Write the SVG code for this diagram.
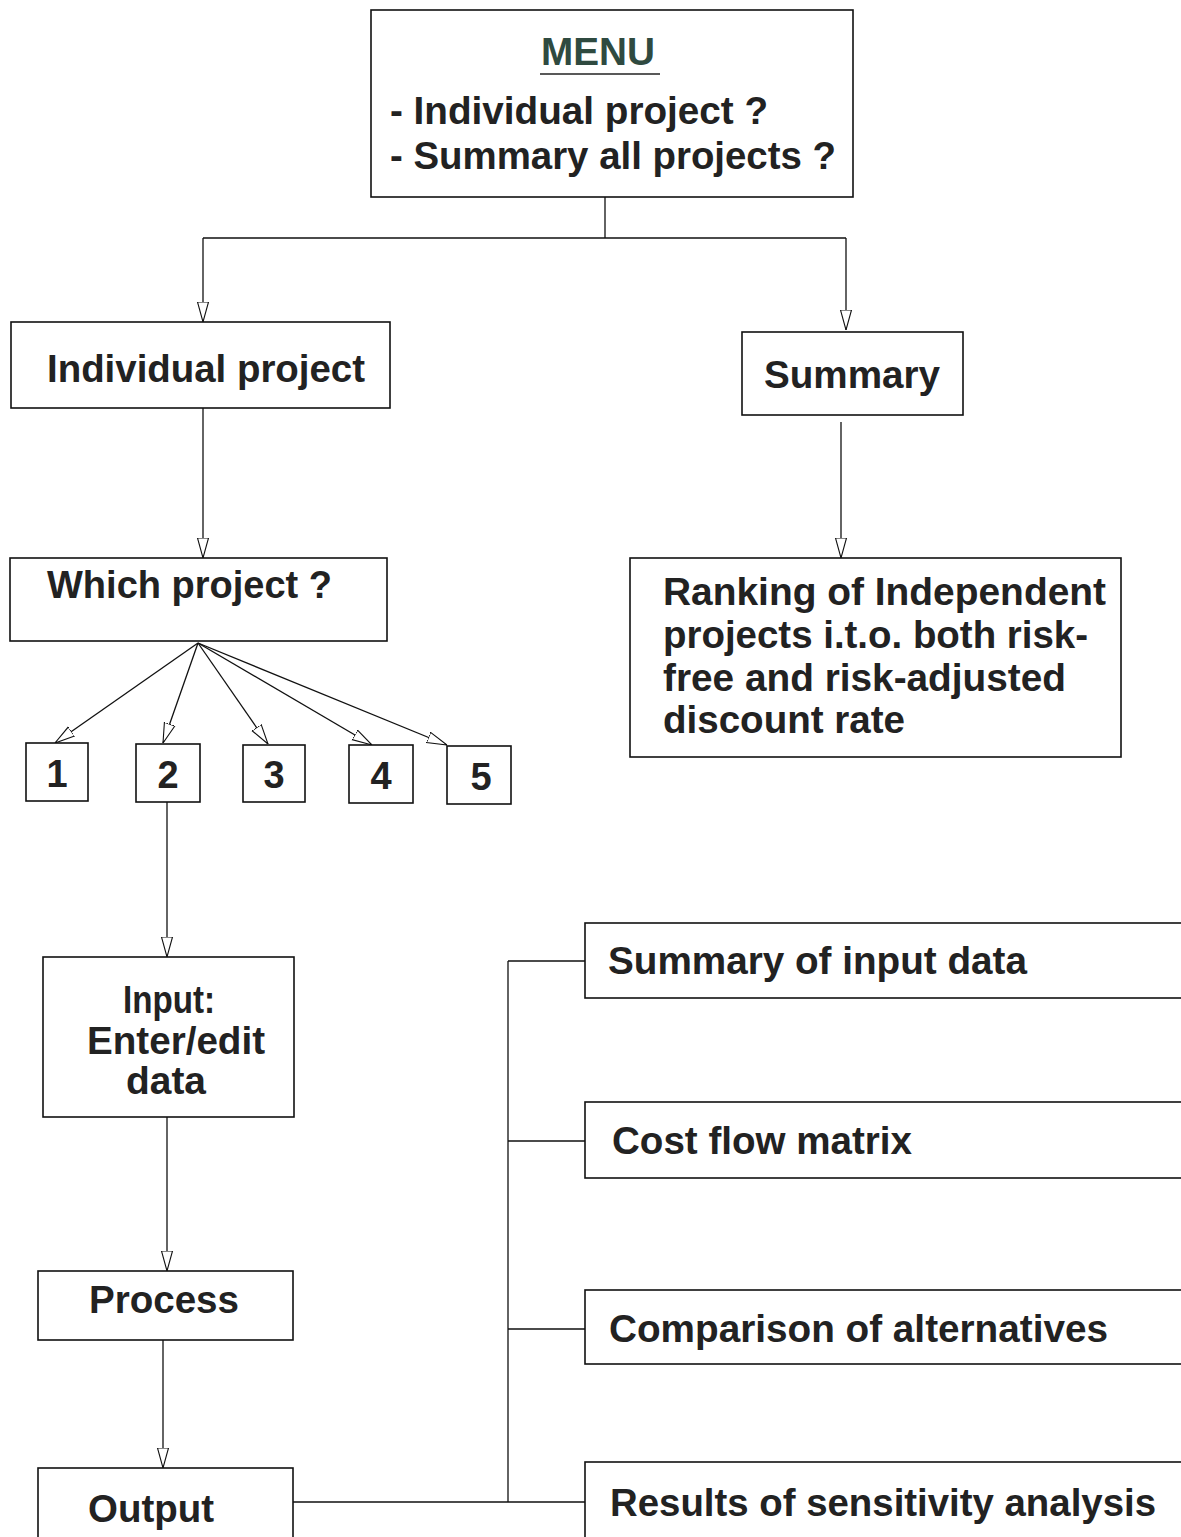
<svg xmlns="http://www.w3.org/2000/svg" width="1181" height="1537" viewBox="0 0 1181 1537">
<style>
.box{fill:#fff;stroke:#111;stroke-width:1.6}
.t{font-family:"Liberation Sans",Arial,sans-serif;font-weight:bold;font-size:38px;fill:#222}
.c{fill:none;stroke:#111;stroke-width:1.3}
</style>
<defs>
<marker id="ah" viewBox="0 0 20 14" refX="20" refY="7" markerWidth="20" markerHeight="14" orient="auto" markerUnits="userSpaceOnUse">
<path d="M0,1.5 L20,7 L0,12.5 Z" fill="#fff" stroke="#111" stroke-width="1.1"/>
</marker>
</defs>
<rect width="1181" height="1537" fill="#fff"/>
<g id="connectors">
<path class="c" d="M605,197 V238 M203,238 H846"/>
<path class="c" d="M203,238 V322" marker-end="url(#ah)"/>
<path class="c" d="M846,238 V330" marker-end="url(#ah)"/>
<path class="c" d="M203,408 V558" marker-end="url(#ah)"/>
<path class="c" d="M841,422 V558" marker-end="url(#ah)"/>
<path class="c" d="M198,643 L55,743" marker-end="url(#ah)"/>
<path class="c" d="M198,643 L163,743" marker-end="url(#ah)"/>
<path class="c" d="M198,643 L268,744" marker-end="url(#ah)"/>
<path class="c" d="M198,643 L372,745" marker-end="url(#ah)"/>
<path class="c" d="M198,643 L447,745" marker-end="url(#ah)"/>
<path class="c" d="M167,802 V957" marker-end="url(#ah)"/>
<path class="c" d="M167,1117 V1271" marker-end="url(#ah)"/>
<path class="c" d="M163,1340 V1468" marker-end="url(#ah)"/>
<path class="c" d="M293,1502 H585 M508,961 V1502 M508,961 H585 M508,1141 H585 M508,1329 H585"/>
</g>
<g id="menu">
<rect class="box" x="371" y="10" width="482" height="187"/>
<text class="t" x="598" y="65" text-anchor="middle" style="fill:#2f4a40" textLength="114" lengthAdjust="spacingAndGlyphs">MENU</text>
<line x1="540" y1="74" x2="660" y2="74" stroke="#222" stroke-width="1.6"/>
<text class="t" x="390" y="124" textLength="378" lengthAdjust="spacingAndGlyphs">- Individual project ?</text>
<text class="t" x="390" y="169" textLength="446" lengthAdjust="spacingAndGlyphs">- Summary all projects ?</text>
</g>
<g id="individual">
<rect class="box" x="11" y="322" width="379" height="86"/>
<text class="t" x="47" y="382" textLength="318" lengthAdjust="spacingAndGlyphs">Individual project</text>
</g>
<g id="summary">
<rect class="box" x="742" y="332" width="221" height="83"/>
<text class="t" x="764" y="388" textLength="176" lengthAdjust="spacingAndGlyphs">Summary</text>
</g>
<g id="which">
<rect class="box" x="10" y="558" width="377" height="83"/>
<text class="t" x="47" y="598" textLength="285" lengthAdjust="spacingAndGlyphs">Which project ?</text>
</g>
<g id="ranking">
<rect class="box" x="630" y="558" width="491" height="199"/>
<text class="t" x="663" y="605" textLength="443" lengthAdjust="spacingAndGlyphs">Ranking of Independent</text>
<text class="t" x="663" y="648" textLength="425" lengthAdjust="spacingAndGlyphs">projects i.t.o. both risk-</text>
<text class="t" x="663" y="691" textLength="403" lengthAdjust="spacingAndGlyphs">free and risk-adjusted</text>
<text class="t" x="663" y="733" textLength="242" lengthAdjust="spacingAndGlyphs">discount rate</text>
</g>
<g id="p1"><rect class="box" x="26" y="743" width="62" height="58"/><text class="t" x="57" y="787" text-anchor="middle">1</text></g>
<g id="p2"><rect class="box" x="136" y="744" width="64" height="58"/><text class="t" x="168" y="788" text-anchor="middle">2</text></g>
<g id="p3"><rect class="box" x="243" y="745" width="62" height="57"/><text class="t" x="274" y="788" text-anchor="middle">3</text></g>
<g id="p4"><rect class="box" x="349" y="745" width="64" height="58"/><text class="t" x="381" y="789" text-anchor="middle">4</text></g>
<g id="p5"><rect class="box" x="447" y="746" width="64" height="58"/><text class="t" x="481" y="790" text-anchor="middle">5</text></g>
<g id="input">
<rect class="box" x="43" y="957" width="251" height="160"/>
<text class="t" x="169" y="1013" text-anchor="middle" textLength="92" lengthAdjust="spacingAndGlyphs">Input:</text>
<text class="t" x="176" y="1054" text-anchor="middle" textLength="178" lengthAdjust="spacingAndGlyphs">Enter/edit</text>
<text class="t" x="166" y="1094" text-anchor="middle" textLength="80" lengthAdjust="spacingAndGlyphs">data</text>
</g>
<g id="process">
<rect class="box" x="38" y="1271" width="255" height="69"/>
<text class="t" x="164" y="1313" text-anchor="middle" textLength="150" lengthAdjust="spacingAndGlyphs">Process</text>
</g>
<g id="output">
<rect class="box" x="38" y="1468" width="255" height="80"/>
<text class="t" x="151" y="1522" text-anchor="middle" textLength="126" lengthAdjust="spacingAndGlyphs">Output</text>
</g>
<g id="sumin">
<rect class="box" x="585" y="923" width="610" height="75"/>
<text class="t" x="608" y="974" textLength="419" lengthAdjust="spacingAndGlyphs">Summary of input data</text>
</g>
<g id="costflow">
<rect class="box" x="585" y="1102" width="610" height="76"/>
<text class="t" x="612" y="1154" textLength="300" lengthAdjust="spacingAndGlyphs">Cost flow matrix</text>
</g>
<g id="compare">
<rect class="box" x="585" y="1290" width="610" height="74"/>
<text class="t" x="609" y="1342" textLength="499" lengthAdjust="spacingAndGlyphs">Comparison of alternatives</text>
</g>
<g id="results">
<rect class="box" x="585" y="1462" width="610" height="90"/>
<text class="t" x="610" y="1516" textLength="546" lengthAdjust="spacingAndGlyphs">Results of sensitivity analysis</text>
</g>
</svg>
